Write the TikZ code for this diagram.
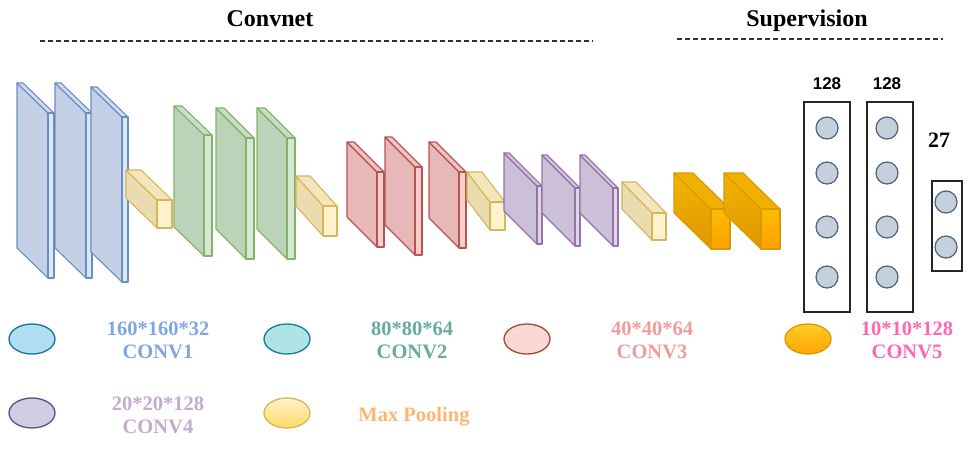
\documentclass[tikz,border=0pt]{standalone}
\usepackage{fontspec}
\setmainfont{Liberation Serif}
\newfontfamily\arialf{Liberation Sans}
\usetikzlibrary{shapes.geometric}
\definecolor{blueSide}{HTML}{C3D0E5}
\definecolor{blueFront}{HTML}{DAE8FC}
\definecolor{blueTop}{HTML}{CFDCF0}
\definecolor{blueLine}{HTML}{6C8EBF}
\definecolor{greenSide}{HTML}{BBD3B9}
\definecolor{greenFront}{HTML}{D5E8D4}
\definecolor{greenTop}{HTML}{C9DEC8}
\definecolor{greenLine}{HTML}{82B366}
\definecolor{redSide}{HTML}{E6B8B7}
\definecolor{redFront}{HTML}{F8CECC}
\definecolor{redTop}{HTML}{F0C4C3}
\definecolor{redLine}{HTML}{B85450}
\definecolor{purpleSide}{HTML}{CBC0D8}
\definecolor{purpleFront}{HTML}{E1D5E7}
\definecolor{purpleTop}{HTML}{D6CADF}
\definecolor{purpleLine}{HTML}{9673A6}
\definecolor{poolSide}{HTML}{EADBB0}
\definecolor{poolFront}{HTML}{FFF2CC}
\definecolor{poolTop}{HTML}{F3E6BD}
\definecolor{poolLine}{HTML}{D6B656}
\definecolor{orLine}{HTML}{D79B00}
\definecolor{orSideA}{HTML}{F3B400}
\definecolor{orSideB}{HTML}{E09600}
\definecolor{orFrontA}{HTML}{FFBB00}
\definecolor{orFrontB}{HTML}{FFA200}
\definecolor{orTop}{HTML}{F0B000}
\definecolor{neuFill}{HTML}{C4D0DC}
\definecolor{neuLine}{HTML}{4C6379}
\definecolor{cOne}{HTML}{7EA6E0}
\definecolor{cTwo}{HTML}{67AB9F}
\definecolor{cThree}{HTML}{F19C99}
\definecolor{cFour}{HTML}{C3ABD0}
\definecolor{cFive}{HTML}{FF66B3}
\definecolor{cPool}{HTML}{FFB570}
\definecolor{eOneF}{HTML}{B1DDF0}
\definecolor{eOneL}{HTML}{10739E}
\definecolor{eTwoF}{HTML}{B0E3E6}
\definecolor{eTwoL}{HTML}{0E8088}
\definecolor{eThreeF}{HTML}{FAD9D5}
\definecolor{eThreeL}{HTML}{AE4132}
\definecolor{eFourF}{HTML}{D0CEE2}
\definecolor{eFourL}{HTML}{56517E}
\definecolor{eFiveA}{HTML}{FFCD28}
\definecolor{eFiveB}{HTML}{FFA500}
\definecolor{ePoolA}{HTML}{FFF2CC}
\definecolor{ePoolB}{HTML}{FFD966}
\newcommand{\cnncube}[7]{%
  \path[#7 side] (#1,#2) -- ++(#3,#4) -- ++(0,#5) -- ++(-#3,-#4) -- cycle;
  \path[#7 top] (#1,#2) -- ++(#6,0) -- ++(#3,#4) -- ++(-#6,0) -- cycle;
  \path[#7 front] ({#1+#3},{#2+#4}) rectangle ++(#6,#5);
}
\tikzset{
  cubeline/.style={line width=1.1pt, line join=round},
  blue side/.style={cubeline, draw=blueLine, fill=blueSide},
  blue top/.style={cubeline, draw=blueLine, fill=blueTop},
  blue front/.style={cubeline, draw=blueLine, fill=blueFront},
  green side/.style={cubeline, draw=greenLine, fill=greenSide},
  green top/.style={cubeline, draw=greenLine, fill=greenTop},
  green front/.style={cubeline, draw=greenLine, fill=greenFront},
  red side/.style={cubeline, draw=redLine, fill=redSide},
  red top/.style={cubeline, draw=redLine, fill=redTop},
  red front/.style={cubeline, draw=redLine, fill=redFront},
  purple side/.style={cubeline, draw=purpleLine, fill=purpleSide},
  purple top/.style={cubeline, draw=purpleLine, fill=purpleTop},
  purple front/.style={cubeline, draw=purpleLine, fill=purpleFront},
  pool side/.style={cubeline, draw=poolLine, fill=poolSide},
  pool top/.style={cubeline, draw=poolLine, fill=poolTop},
  pool front/.style={cubeline, draw=poolLine, fill=poolFront},
  orange side/.style={cubeline, draw=orLine, top color=orSideA, bottom color=orSideB},
  orange top/.style={cubeline, draw=orLine, fill=orTop},
  orange front/.style={cubeline, draw=orLine, top color=orFrontA, bottom color=orFrontB},
  title/.style={anchor=base, font=\fontsize{24}{28}\selectfont\bfseries, inner sep=0},
  dashline/.style={line width=1.4pt, draw=black!80, dash pattern=on 5pt off 3pt},
  fcbox/.style={draw=black!85, line width=1.4pt, fill=none, inner sep=0, rectangle},
  neuron/.style={circle, minimum size=22pt, inner sep=0, draw=neuLine, fill=neuFill, line width=1.2pt},
  numlab/.style={anchor=base, inner sep=0, font=\arialf\fontsize{17}{20}\selectfont\bfseries},
  legtext/.style={anchor=base, inner sep=0, font=\fontsize{20.5}{23}\selectfont\bfseries},
  legell/.style={ellipse, minimum width=46pt, minimum height=30pt, inner sep=0, line width=1.3pt},
}
\begin{document}
\begin{tikzpicture}[x=1pt, y=-1pt]
\useasboundingbox (0,0) rectangle (971,450);
% titles
\node[title] (tconv) at (270,26) {Convnet};
\node[title] (tsup) at (807,26) {Supervision};
\coordinate (dc1) at (40,41); \coordinate (dc2) at (593,41);
\coordinate (ds1) at (677,39); \coordinate (ds2) at (943,39);
\draw[dashline] (dc1) -- (dc2);
\draw[dashline] (ds1) -- (ds2);
% conv1
\cnncube{17}{83}{31}{30}{165}{6}{blue}
\cnncube{55}{83}{31}{30}{165}{6}{blue}
\cnncube{91}{87}{31}{30}{165}{6}{blue}
\cnncube{126}{170}{31}{30}{28}{15}{pool}
% conv2
\cnncube{174}{106}{30}{29}{121}{8}{green}
\cnncube{216}{108}{30}{30}{121}{8}{green}
\cnncube{257}{108}{30}{30}{121}{8}{green}
\cnncube{296}{176}{27}{30}{30}{14}{pool}
% conv3
\cnncube{347}{142}{30}{30}{75}{7}{red}
\cnncube{385}{137}{30}{30}{88}{7}{red}
\cnncube{429}{142}{30}{30}{76}{7}{red}
\cnncube{467}{172}{23}{30}{28}{15}{pool}
% conv4
\cnncube{504}{153}{33}{33}{58}{5}{purple}
\cnncube{542}{155}{33}{33}{58}{5}{purple}
\cnncube{580}{155}{33}{33}{58}{5}{purple}
\cnncube{622}{182}{30}{31}{27}{14}{pool}
% conv5
\cnncube{674}{173}{37}{36}{40}{19}{orange}
\cnncube{724}{173}{37}{36}{40}{19}{orange}
% fully connected
\node[fcbox, minimum width=46pt, minimum height=210pt] (fc1) at (827,207) {};
\node[fcbox, minimum width=46pt, minimum height=210pt] (fc2) at (890,207) {};
\node[fcbox, minimum width=30pt, minimum height=90pt] (fc3) at (947,226) {};
\node[neuron] (n11) at (827,128) {};
\node[neuron] (n12) at (827,173) {};
\node[neuron] (n13) at (827,227) {};
\node[neuron] (n14) at (827,277) {};
\node[neuron] (n21) at (887,128) {};
\node[neuron] (n22) at (887,173) {};
\node[neuron] (n23) at (887,227) {};
\node[neuron] (n24) at (887,277) {};
\node[neuron] (n31) at (946,202) {};
\node[neuron] (n32) at (946,247) {};
\node[numlab] (k1) at (827,89) {128};
\node[numlab] (k2) at (887,89) {128};
\node[anchor=base, inner sep=0, font=\fontsize{22}{26}\selectfont\bfseries] (k3) at (939,147) {27};
% legend
\node[legell, draw=eOneL, fill=eOneF] (e1) at (32,339) {};
\node[legtext, text=cOne] (t1a) at (158,335) {160*160*32};
\node[legtext, text=cOne] (t1b) at (158,358) {CONV1};
\node[legell, draw=eTwoL, fill=eTwoF] (e2) at (287,339) {};
\node[legtext, text=cTwo] (t2a) at (412,335) {80*80*64};
\node[legtext, text=cTwo] (t2b) at (412,358) {CONV2};
\node[legell, draw=eThreeL, fill=eThreeF] (e3) at (527,339) {};
\node[legtext, text=cThree] (t3a) at (652,335) {40*40*64};
\node[legtext, text=cThree] (t3b) at (652,358) {CONV3};
\node[legell, draw=orLine, top color=eFiveA, bottom color=eFiveB] (e5) at (808,339) {};
\node[legtext, text=cFive] (t5a) at (907,335) {10*10*128};
\node[legtext, text=cFive] (t5b) at (907,358) {CONV5};
\node[legell, draw=eFourL, fill=eFourF] (e4) at (32,413) {};
\node[legtext, text=cFour] (t4a) at (158,410) {20*20*128};
\node[legtext, text=cFour] (t4b) at (158,433) {CONV4};
\node[legell, draw=poolLine, top color=ePoolA, bottom color=ePoolB] (ep) at (287,413) {};
\node[legtext, text=cPool] (tp) at (414,421) {Max Pooling};
\end{tikzpicture}
\end{document}
